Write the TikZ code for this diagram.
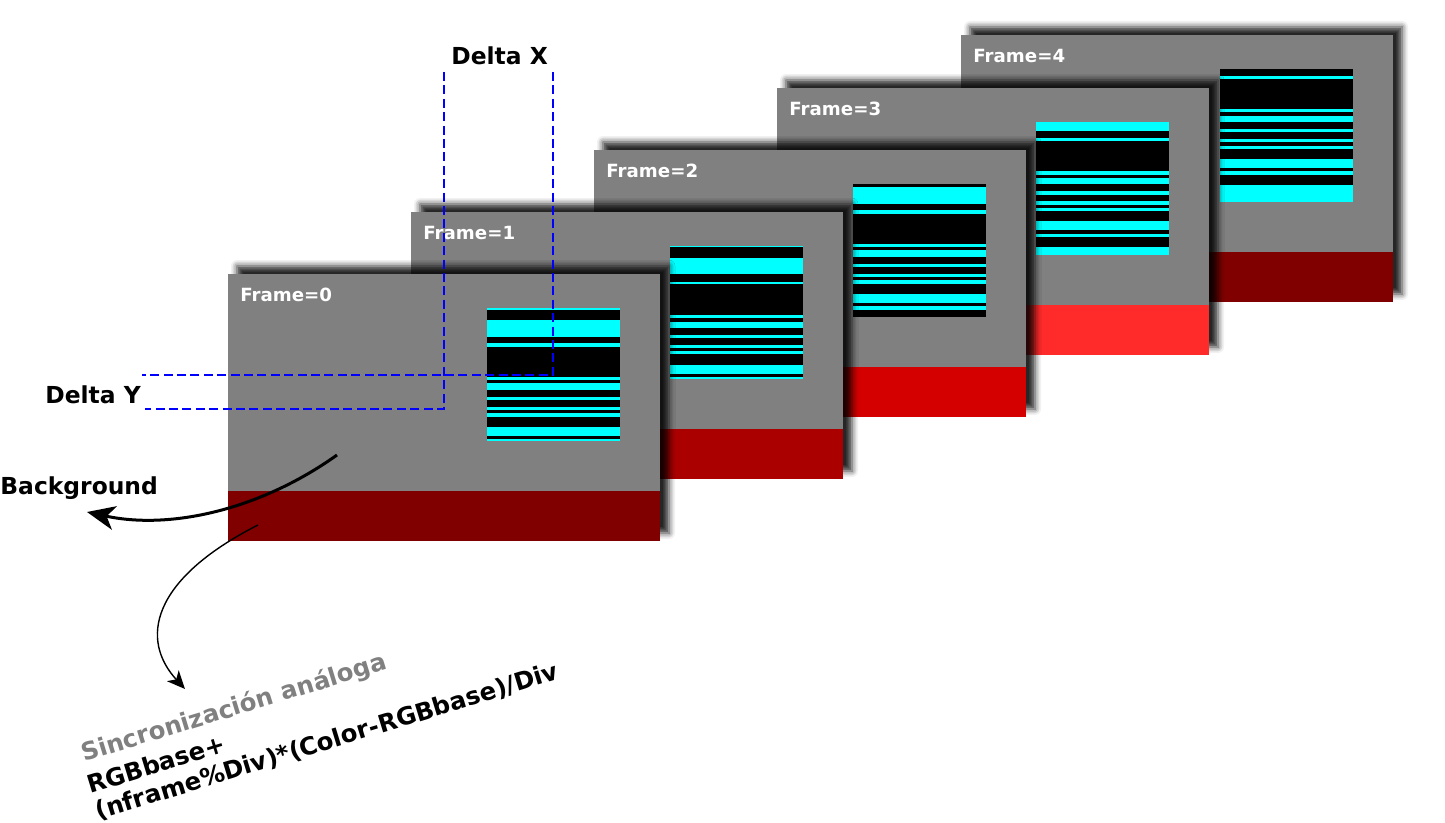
\documentclass[tikz,border=0pt]{standalone}
\usepackage{fontspec}
\setmainfont{DejaVu Sans}
\usetikzlibrary{positioning,shadows.blur,arrows.meta}

\definecolor{shotgray}{HTML}{808080}
\definecolor{redA}{HTML}{800000}
\definecolor{redB}{HTML}{AA0000}
\definecolor{redC}{HTML}{D40000}
\definecolor{redD}{HTML}{FF2A2A}
\definecolor{barcyan}{HTML}{00FFFF}
\definecolor{guideblue}{HTML}{0000FF}

\tikzset{
  shot/.style={rectangle, fill=shotgray, inner sep=0pt, outer sep=0pt,
    minimum width=216pt, minimum height=133.5pt, anchor=north west,
    blur shadow={shadow xshift=4.5pt, shadow yshift=4pt,
      shadow blur radius=3pt, shadow opacity=85}},
  shotlabel/.style={text=white, inner sep=0pt, anchor=base west,
    font=\fontsize{9.1}{11}\selectfont\bfseries},
  tag/.style={inner sep=0pt, anchor=base west,
    font=\fontsize{11.7}{13.5}\selectfont\bfseries},
  slanted/.style={tag, rotate=17, font=\fontsize{12.2}{13.8}\selectfont\bfseries},
  guide/.style={guideblue, line width=0.75pt, dash pattern=on 4.5pt off 2.2pt},
}

\begin{document}
\begin{tikzpicture}[x=0.5pt, y=-0.5pt]
  \useasboundingbox (0,0) rectangle (1445,823);

  % frames, back to front
  \foreach \i/\fx/\fy/\red/\stripes in {
      4/961/35/redA/{7/10,40/43,47/53,60/63,70/73,77/80,90/99,102/106,116/133},
      3/777/88/redD/{0/9,16/19,49/53,56/62,69/73,79/83,86/89,99/108,112/115,125/133},
      2/594/150/redC/{3/20,26/30,60/63,66/73,80/83,90/93,96/100,110/119,122/126},
      1/411/212/redB/{0/1.5,12/28,36/38.5,69/72,76/82,89/92,99/102,105/108,119/128,131/133},
      0/228/274/redA/{0/2,12/29,35/39,69/72,75/82,89/92,99/102,105/109,119/128,131/133}}{
    \node[shot] (f\i) at (\fx,\fy) {};
    \fill[\red] ([yshift=25pt]f\i.south west) rectangle (f\i.south east);
    \fill[black] (\fx+259,\fy+34) rectangle (\fx+392,\fy+167);
    \foreach \a/\b in \stripes
      \fill[barcyan] (\fx+259,\fy+34+\a) rectangle (\fx+392,\fy+34+\b);
    \node[shotlabel] (lbl\i) at (\fx+12,\fy+28) {Frame=\i};
  }

  % deltas
  \node[tag] (dx) at (451,65) {Delta X};
  \node[tag] (dy) at (45,403) {Delta Y};
  \coordinate (dxa) at (444,72);
  \coordinate (dxb) at (553,72);
  \coordinate (dya) at (145,409);
  \coordinate (dyb) at (142,375);
  \draw[guide] (dxb) |- (dyb);
  \draw[guide] (dxa) |- (dya);

  % background
  \node[tag] (bg) at (0,494) {Background};
  \coordinate (bgfrom) at (337,455);
  \coordinate (bgto) at (87,512);
  \draw[line width=1.5pt, -{Stealth[length=14pt,width=12pt,inset=4pt]}]
    (bgfrom) .. controls (260,510) and (170,530) .. (bgto);

  % sync
  \coordinate (syfrom) at (258,525);
  \coordinate (syto) at (185,689);
  \draw[line width=0.7pt, -{Stealth[length=9pt,width=8pt,inset=2.5pt]}]
    (syfrom) .. controls (150,580) and (140,640) .. (syto);
  \node[slanted, text=shotgray] (sync) at (84,762) {Sincronización análoga};
  \node[slanted, align=left] (formula) at (98,820)
    {RGBbase+\\(nframe\%Div)*(Color-RGBbase)/Div};
\end{tikzpicture}
\end{document}
